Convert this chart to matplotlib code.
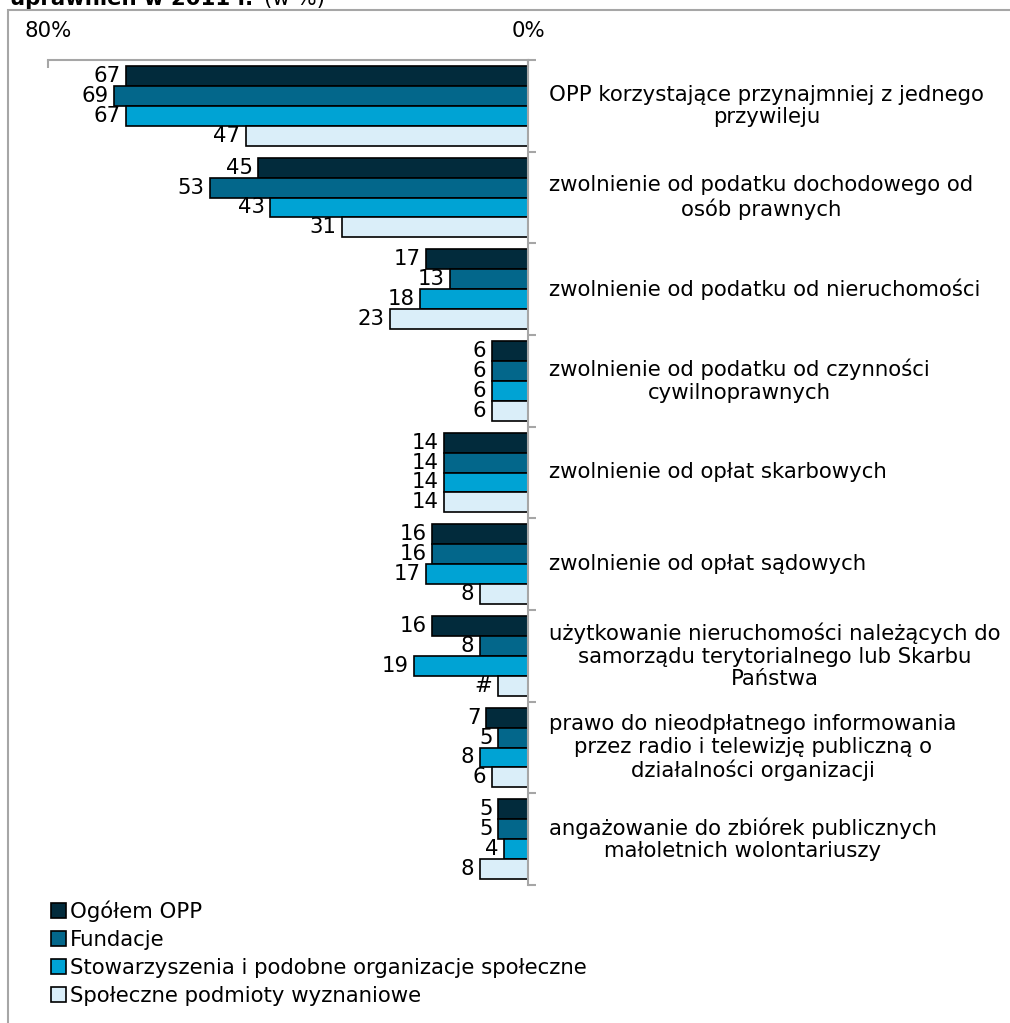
import matplotlib.pyplot as plt
import matplotlib.transforms as mtransforms
from matplotlib.patches import Patch, Rectangle

W, H = 1010, 1023

categories = [
    "OPP korzystające przynajmniej z jednego\nprzywileju",
    "zwolnienie od podatku dochodowego od\nosób prawnych",
    "zwolnienie od podatku od nieruchomości",
    "zwolnienie od podatku od czynności\ncywilnoprawnych",
    "zwolnienie od opłat skarbowych",
    "zwolnienie od opłat sądowych",
    "użytkowanie nieruchomości należących do\nsamorządu terytorialnego lub Skarbu\nPaństwa",
    "prawo do nieodpłatnego informowania\nprzez radio i telewizję publiczną o\ndziałalności organizacji",
    "angażowanie do zbiórek publicznych\nmałoletnich wolontariuszy",
]
series_names = [
    "Ogółem OPP",
    "Fundacje",
    "Stowarzyszenia i podobne organizacje społeczne",
    "Społeczne podmioty wyznaniowe",
]
ogolem = [67, 45, 17, 6, 14, 16, 16, 7, 5]
fundacje = [69, 53, 13, 6, 14, 16, 8, 5, 5]
stowarzyszenia = [67, 43, 18, 6, 14, 17, 19, 8, 4]
wyznaniowe = [47, 31, 23, 6, 14, 8, 5, 6, 8]
# value shown as "#" in the source (small sample)
wyznaniowe_labels = ["47", "31", "23", "6", "14", "8", "#", "6", "8"]

COLORS = ("#022B3C", "#03678B", "#00A3D4", "#DAEEF9")
GRID = "#A6A6A6"
FS = 15.3

plt.rcParams["font.family"] = ["DejaVu Sans"]

fig = plt.figure(figsize=(W / 100, H / 100), dpi=100)
ax = fig.add_axes([48 / W, 1 - 885 / H, 480 / W, 825 / H])

# outer frame (cut off on the right and bottom)
fig.patches.append(Rectangle((8 / W, -0.1), 1.2, 1.1 - 10 / H, transform=fig.transFigure,
                             fill=False, edgecolor=GRID, lw=1.5))

# title line, cut off at the top as in the source
fig.text(10 / W, 1 - 5 / H, "uprawnień w 2011 r.¹", fontsize=FS, fontweight="bold",
         va="baseline", ha="left")
fig.text(264 / W, 1 - 5 / H, "(w %)", fontsize=FS, va="baseline", ha="left")

series = [ogolem, fundacje, stowarzyszenia, wyznaniowe]
h = 0.218
ys = list(range(len(categories)))
for i, vals in enumerate(series):
    yy = [y + (i - 1.5) * h for y in ys]
    bars = ax.barh(yy, vals, height=h, color=COLORS[i], edgecolor="black", lw=1.2,
                   label=series_names[i])
    labels = wyznaniowe_labels if i == 3 else [str(v) for v in vals]
    for b, s in zip(bars, labels):
        ax.text(b.get_width() + 0.9, b.get_y() + b.get_height() / 2, s,
                ha="right", va="center", fontsize=FS)

ax.set_xlim(80, 0)
ax.set_ylim(len(categories) - 0.5, -0.5)

for side in ("left", "bottom"):
    ax.spines[side].set_visible(False)
for side in ("top", "right"):
    ax.spines[side].set_color(GRID)
    ax.spines[side].set_linewidth(1.5)

ax.xaxis.tick_top()
ax.set_xticks([80, 0], ["80%", "0%"])
ax.tick_params(axis="x", direction="in", length=6, width=1.5, color=GRID,
               labelsize=FS, pad=14)
ax.yaxis.tick_right()
ax.set_yticks([y - 0.5 for y in range(len(categories) + 1)])
ax.set_yticklabels([])
ax.tick_params(axis="y", direction="out", length=6, width=1.5, color=GRID)

lab_tr = mtransforms.blended_transform_factory(fig.transFigure, ax.transData)
for y, c in zip(ys, categories):
    ax.text(549 / W, y, c, transform=lab_tr, fontsize=FS,
            ha="left", va="center", multialignment="center", linespacing=1.15)

handles = [Patch(facecolor=COLORS[i], edgecolor="black", lw=1.2) for i in range(4)]
fig.legend(handles, series_names, loc="upper left", bbox_to_anchor=(51 / W, 1 - 900 / H),
           frameon=False, fontsize=FS, handlelength=0.7, handleheight=0.7,
           handletextpad=0.2, labelspacing=0.38, borderpad=0, borderaxespad=0)

fig.savefig("out.png", dpi=100)
